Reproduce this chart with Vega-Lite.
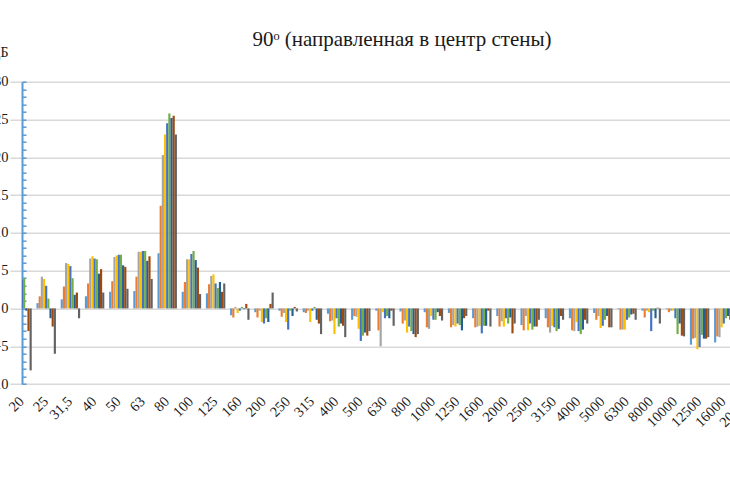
{
  "$schema": "https://vega.github.io/schema/vega-lite/v6.json",
  "title": {
    "text": "90ᵒ (направленная в центр стены)",
    "anchor": "middle",
    "dx": 26,
    "offset": 0,
    "dy": 4,
    "font": "Liberation Serif",
    "fontSize": 21,
    "fontWeight": "normal",
    "color": "#1a1a1a"
  },
  "autosize": {"type": "none"},
  "width": 708,
  "height": 302.3,
  "padding": {"left": 22, "top": 81.7, "right": 0, "bottom": 102},
  "background": "#ffffff",
  "view": {"stroke": null},
  "data": {
    "values": [
      {"band": "20", "series": "s1", "value": 1.0}, {"band": "20", "series": "s2", "value": 2.0}, {"band": "20", "series": "s3", "value": 3.0}, {"band": "20", "series": "s4", "value": 3.5}, {"band": "20", "series": "s5", "value": 3.8}, {"band": "20", "series": "s6", "value": 4.0}, {"band": "20", "series": "s7", "value": -0.3}, {"band": "20", "series": "s8", "value": -3.0}, {"band": "20", "series": "s9", "value": -8.2},
      {"band": "25", "series": "s1", "value": 0.7}, {"band": "25", "series": "s2", "value": 1.6}, {"band": "25", "series": "s3", "value": 4.2}, {"band": "25", "series": "s4", "value": 3.9}, {"band": "25", "series": "s5", "value": 3.0}, {"band": "25", "series": "s6", "value": 1.3}, {"band": "25", "series": "s7", "value": -1.3}, {"band": "25", "series": "s8", "value": -2.4}, {"band": "25", "series": "s9", "value": -6.0},
      {"band": "31,5", "series": "s1", "value": 1.2}, {"band": "31,5", "series": "s2", "value": 2.9}, {"band": "31,5", "series": "s3", "value": 6.0}, {"band": "31,5", "series": "s4", "value": 5.9}, {"band": "31,5", "series": "s5", "value": 5.6}, {"band": "31,5", "series": "s6", "value": 4.0}, {"band": "31,5", "series": "s7", "value": 1.8}, {"band": "31,5", "series": "s8", "value": 2.1}, {"band": "31,5", "series": "s9", "value": -1.3},
      {"band": "40", "series": "s1", "value": 1.6}, {"band": "40", "series": "s2", "value": 3.3}, {"band": "40", "series": "s3", "value": 6.6}, {"band": "40", "series": "s4", "value": 6.9}, {"band": "40", "series": "s5", "value": 6.6}, {"band": "40", "series": "s6", "value": 6.5}, {"band": "40", "series": "s7", "value": 4.6}, {"band": "40", "series": "s8", "value": 5.2}, {"band": "40", "series": "s9", "value": 2.1},
      {"band": "50", "series": "s1", "value": 2.2}, {"band": "50", "series": "s2", "value": 3.6}, {"band": "50", "series": "s3", "value": 6.8}, {"band": "50", "series": "s4", "value": 7.0}, {"band": "50", "series": "s5", "value": 7.1}, {"band": "50", "series": "s6", "value": 7.1}, {"band": "50", "series": "s7", "value": 5.7}, {"band": "50", "series": "s8", "value": 5.5}, {"band": "50", "series": "s9", "value": 2.6},
      {"band": "63", "series": "s1", "value": 2.3}, {"band": "63", "series": "s2", "value": 4.2}, {"band": "63", "series": "s3", "value": 7.5}, {"band": "63", "series": "s4", "value": 7.5}, {"band": "63", "series": "s5", "value": 7.6}, {"band": "63", "series": "s6", "value": 7.6}, {"band": "63", "series": "s7", "value": 6.3}, {"band": "63", "series": "s8", "value": 6.9}, {"band": "63", "series": "s9", "value": 3.9},
      {"band": "80", "series": "s1", "value": 7.3}, {"band": "80", "series": "s2", "value": 13.6}, {"band": "80", "series": "s3", "value": 20.3}, {"band": "80", "series": "s4", "value": 23.0}, {"band": "80", "series": "s5", "value": 24.5}, {"band": "80", "series": "s6", "value": 25.8}, {"band": "80", "series": "s7", "value": 25.2}, {"band": "80", "series": "s8", "value": 25.5}, {"band": "80", "series": "s9", "value": 23.0},
      {"band": "100", "series": "s1", "value": 2.2}, {"band": "100", "series": "s2", "value": 3.5}, {"band": "100", "series": "s3", "value": 6.5}, {"band": "100", "series": "s4", "value": 6.5}, {"band": "100", "series": "s5", "value": 7.2}, {"band": "100", "series": "s6", "value": 7.6}, {"band": "100", "series": "s7", "value": 6.4}, {"band": "100", "series": "s8", "value": 5.4}, {"band": "100", "series": "s9", "value": 1.9},
      {"band": "125", "series": "s1", "value": 2.0}, {"band": "125", "series": "s2", "value": 3.2}, {"band": "125", "series": "s3", "value": 4.3}, {"band": "125", "series": "s4", "value": 4.5}, {"band": "125", "series": "s5", "value": 3.3}, {"band": "125", "series": "s6", "value": 2.7}, {"band": "125", "series": "s7", "value": 3.5}, {"band": "125", "series": "s8", "value": 2.2}, {"band": "125", "series": "s9", "value": 3.3},
      {"band": "160", "series": "s1", "value": -0.9}, {"band": "160", "series": "s2", "value": -1.2}, {"band": "160", "series": "s3", "value": 0.2}, {"band": "160", "series": "s4", "value": -0.6}, {"band": "160", "series": "s5", "value": -0.3}, {"band": "160", "series": "s6", "value": 0.2}, {"band": "160", "series": "s7", "value": -0.1}, {"band": "160", "series": "s8", "value": 0.6}, {"band": "160", "series": "s9", "value": -1.5},
      {"band": "200", "series": "s1", "value": -0.5}, {"band": "200", "series": "s2", "value": -1.2}, {"band": "200", "series": "s3", "value": -0.3}, {"band": "200", "series": "s4", "value": -1.8}, {"band": "200", "series": "s5", "value": -2.0}, {"band": "200", "series": "s6", "value": -1.3}, {"band": "200", "series": "s7", "value": -1.8}, {"band": "200", "series": "s8", "value": 0.6}, {"band": "200", "series": "s9", "value": 2.1},
      {"band": "250", "series": "s1", "value": -0.3}, {"band": "250", "series": "s2", "value": -1.1}, {"band": "250", "series": "s3", "value": -0.6}, {"band": "250", "series": "s4", "value": -1.8}, {"band": "250", "series": "s5", "value": -2.8}, {"band": "250", "series": "s6", "value": -0.3}, {"band": "250", "series": "s7", "value": -1.0}, {"band": "250", "series": "s8", "value": 0.2}, {"band": "250", "series": "s9", "value": -0.4},
      {"band": "315", "series": "s1", "value": -0.5}, {"band": "315", "series": "s2", "value": -0.6}, {"band": "315", "series": "s3", "value": -0.3}, {"band": "315", "series": "s4", "value": -1.8}, {"band": "315", "series": "s5", "value": -0.3}, {"band": "315", "series": "s6", "value": 0.2}, {"band": "315", "series": "s7", "value": -1.5}, {"band": "315", "series": "s8", "value": -2.0}, {"band": "315", "series": "s9", "value": -3.4},
      {"band": "400", "series": "s1", "value": -0.7}, {"band": "400", "series": "s2", "value": -1.7}, {"band": "400", "series": "s3", "value": -1.6}, {"band": "400", "series": "s4", "value": -3.4}, {"band": "400", "series": "s5", "value": -1.3}, {"band": "400", "series": "s6", "value": -2.4}, {"band": "400", "series": "s7", "value": -2.0}, {"band": "400", "series": "s8", "value": -2.3}, {"band": "400", "series": "s9", "value": -3.8},
      {"band": "500", "series": "s1", "value": -1.5}, {"band": "500", "series": "s2", "value": -1.0}, {"band": "500", "series": "s3", "value": -1.1}, {"band": "500", "series": "s4", "value": -2.7}, {"band": "500", "series": "s5", "value": -4.3}, {"band": "500", "series": "s6", "value": -3.6}, {"band": "500", "series": "s7", "value": -3.2}, {"band": "500", "series": "s8", "value": -3.6}, {"band": "500", "series": "s9", "value": -3.0},
      {"band": "630", "series": "s1", "value": -0.3}, {"band": "630", "series": "s2", "value": -2.9}, {"band": "630", "series": "s3", "value": -5.0}, {"band": "630", "series": "s4", "value": -0.5}, {"band": "630", "series": "s5", "value": -1.3}, {"band": "630", "series": "s6", "value": -1.0}, {"band": "630", "series": "s7", "value": -1.3}, {"band": "630", "series": "s8", "value": -0.3}, {"band": "630", "series": "s9", "value": -2.3},
      {"band": "800", "series": "s1", "value": -0.4}, {"band": "800", "series": "s2", "value": -2.0}, {"band": "800", "series": "s3", "value": -1.6}, {"band": "800", "series": "s4", "value": -3.2}, {"band": "800", "series": "s5", "value": -2.4}, {"band": "800", "series": "s6", "value": -3.0}, {"band": "800", "series": "s7", "value": -3.4}, {"band": "800", "series": "s8", "value": -3.8}, {"band": "800", "series": "s9", "value": -3.4},
      {"band": "1000", "series": "s1", "value": -0.5}, {"band": "1000", "series": "s2", "value": -2.5}, {"band": "1000", "series": "s3", "value": -2.7}, {"band": "1000", "series": "s4", "value": -1.0}, {"band": "1000", "series": "s5", "value": -1.5}, {"band": "1000", "series": "s6", "value": -1.5}, {"band": "1000", "series": "s7", "value": -0.5}, {"band": "1000", "series": "s8", "value": -1.0}, {"band": "1000", "series": "s9", "value": -1.6},
      {"band": "1250", "series": "s1", "value": -0.6}, {"band": "1250", "series": "s2", "value": -2.5}, {"band": "1250", "series": "s3", "value": -2.2}, {"band": "1250", "series": "s4", "value": -2.4}, {"band": "1250", "series": "s5", "value": -2.0}, {"band": "1250", "series": "s6", "value": -2.2}, {"band": "1250", "series": "s7", "value": -2.9}, {"band": "1250", "series": "s8", "value": -1.3}, {"band": "1250", "series": "s9", "value": -1.0},
      {"band": "1600", "series": "s1", "value": -1.3}, {"band": "1600", "series": "s2", "value": -2.5}, {"band": "1600", "series": "s3", "value": -2.4}, {"band": "1600", "series": "s4", "value": -2.3}, {"band": "1600", "series": "s5", "value": -3.3}, {"band": "1600", "series": "s6", "value": -2.3}, {"band": "1600", "series": "s7", "value": -2.3}, {"band": "1600", "series": "s8", "value": -0.3}, {"band": "1600", "series": "s9", "value": -2.4},
      {"band": "2000", "series": "s1", "value": -1.0}, {"band": "2000", "series": "s2", "value": -2.4}, {"band": "2000", "series": "s3", "value": -1.7}, {"band": "2000", "series": "s4", "value": -2.4}, {"band": "2000", "series": "s5", "value": -1.3}, {"band": "2000", "series": "s6", "value": -2.0}, {"band": "2000", "series": "s7", "value": -1.2}, {"band": "2000", "series": "s8", "value": -3.3}, {"band": "2000", "series": "s9", "value": -2.0},
      {"band": "2500", "series": "s1", "value": -2.2}, {"band": "2500", "series": "s2", "value": -2.9}, {"band": "2500", "series": "s3", "value": -1.0}, {"band": "2500", "series": "s4", "value": -2.9}, {"band": "2500", "series": "s5", "value": -2.0}, {"band": "2500", "series": "s6", "value": -2.8}, {"band": "2500", "series": "s7", "value": -2.4}, {"band": "2500", "series": "s8", "value": -2.4}, {"band": "2500", "series": "s9", "value": -1.5},
      {"band": "3150", "series": "s1", "value": -1.3}, {"band": "3150", "series": "s2", "value": -2.5}, {"band": "3150", "series": "s3", "value": -3.2}, {"band": "3150", "series": "s4", "value": -2.3}, {"band": "3150", "series": "s5", "value": -2.5}, {"band": "3150", "series": "s6", "value": -3.0}, {"band": "3150", "series": "s7", "value": -2.7}, {"band": "3150", "series": "s8", "value": -1.0}, {"band": "3150", "series": "s9", "value": -1.5},
      {"band": "4000", "series": "s1", "value": -1.3}, {"band": "4000", "series": "s2", "value": -2.9}, {"band": "4000", "series": "s3", "value": -3.0}, {"band": "4000", "series": "s4", "value": -1.8}, {"band": "4000", "series": "s5", "value": -3.0}, {"band": "4000", "series": "s6", "value": -3.4}, {"band": "4000", "series": "s7", "value": -2.8}, {"band": "4000", "series": "s8", "value": -1.5}, {"band": "4000", "series": "s9", "value": -2.0},
      {"band": "5000", "series": "s1", "value": -0.6}, {"band": "5000", "series": "s2", "value": -1.5}, {"band": "5000", "series": "s3", "value": -1.0}, {"band": "5000", "series": "s4", "value": -2.6}, {"band": "5000", "series": "s5", "value": -2.3}, {"band": "5000", "series": "s6", "value": -1.5}, {"band": "5000", "series": "s7", "value": -1.0}, {"band": "5000", "series": "s8", "value": -2.5}, {"band": "5000", "series": "s9", "value": -2.5},
      {"band": "6300", "series": "s1", "value": -0.1}, {"band": "6300", "series": "s2", "value": -2.8}, {"band": "6300", "series": "s3", "value": -2.8}, {"band": "6300", "series": "s4", "value": -2.8}, {"band": "6300", "series": "s5", "value": -1.5}, {"band": "6300", "series": "s6", "value": -1.2}, {"band": "6300", "series": "s7", "value": -0.8}, {"band": "6300", "series": "s8", "value": -0.7}, {"band": "6300", "series": "s9", "value": -1.5},
      {"band": "8000", "series": "s1", "value": -0.3}, {"band": "8000", "series": "s2", "value": -1.2}, {"band": "8000", "series": "s3", "value": -0.3}, {"band": "8000", "series": "s4", "value": -0.5}, {"band": "8000", "series": "s5", "value": -3.0}, {"band": "8000", "series": "s6", "value": -0.3}, {"band": "8000", "series": "s7", "value": -1.3}, {"band": "8000", "series": "s8", "value": 0.1}, {"band": "8000", "series": "s9", "value": -2.0},
      {"band": "10000", "series": "s1", "value": -0.1}, {"band": "10000", "series": "s2", "value": -0.5}, {"band": "10000", "series": "s3", "value": -0.3}, {"band": "10000", "series": "s4", "value": -0.3}, {"band": "10000", "series": "s5", "value": -1.3}, {"band": "10000", "series": "s6", "value": -3.4}, {"band": "10000", "series": "s7", "value": -2.0}, {"band": "10000", "series": "s8", "value": -3.6}, {"band": "10000", "series": "s9", "value": -3.7},
      {"band": "12500", "series": "s1", "value": -4.8}, {"band": "12500", "series": "s2", "value": -4.0}, {"band": "12500", "series": "s3", "value": -3.9}, {"band": "12500", "series": "s4", "value": -5.4}, {"band": "12500", "series": "s5", "value": -5.1}, {"band": "12500", "series": "s6", "value": -3.5}, {"band": "12500", "series": "s7", "value": -4.0}, {"band": "12500", "series": "s8", "value": -4.0}, {"band": "12500", "series": "s9", "value": -3.8},
      {"band": "16000", "series": "s1", "value": -4.5}, {"band": "16000", "series": "s2", "value": -3.7}, {"band": "16000", "series": "s3", "value": -3.8}, {"band": "16000", "series": "s4", "value": -2.5}, {"band": "16000", "series": "s5", "value": -2.0}, {"band": "16000", "series": "s6", "value": -1.3}, {"band": "16000", "series": "s7", "value": -1.0}, {"band": "16000", "series": "s8", "value": -1.5}, {"band": "16000", "series": "s9", "value": -1.0},
      {"band": "20000", "series": "s1", "value": -1.0}, {"band": "20000", "series": "s2", "value": -1.5}, {"band": "20000", "series": "s3", "value": -1.5}, {"band": "20000", "series": "s4", "value": -1.2}, {"band": "20000", "series": "s5", "value": -1.0}, {"band": "20000", "series": "s6", "value": -0.8}, {"band": "20000", "series": "s7", "value": -0.8}, {"band": "20000", "series": "s8", "value": -1.0}, {"band": "20000", "series": "s9", "value": -1.0}
    ]
  },
  "mark": {"type": "bar", "clip": true},
  "encoding": {
    "x": {
      "field": "band",
      "type": "nominal",
      "scale": {
        "domain": ["20", "25", "31,5", "40", "50", "63", "80", "100", "125", "160", "200", "250", "315", "400", "500", "630", "800", "1000", "1250", "1600", "2000", "2500", "3150", "4000", "5000", "6300", "8000", "10000", "12500", "16000", "20000"],
        "range": [-12.1, 738.1],
        "paddingInner": 0.196,
        "paddingOuter": 0.098
      },
      "axis": {
        "title": null,
        "domain": false,
        "ticks": false,
        "grid": false,
        "labelAngle": -45,
        "labelAlign": "right",
        "labelBaseline": "middle",
        "labelPadding": 15,
        "labelFont": "Liberation Serif",
        "labelFontSize": 14.5,
        "labelColor": "#1a1a1a",
        "labelBound": false,
        "labelOverlap": false
      }
    },
    "xOffset": {
      "field": "series",
      "type": "nominal",
      "scale": {"paddingInner": 0, "paddingOuter": 0}
    },
    "y": {
      "field": "value",
      "type": "quantitative",
      "scale": {"domain": [-10, 30], "nice": false, "zero": false},
      "axis": {
        "title": "дБ",
        "titleAngle": 0,
        "titleAlign": "right",
        "titleBaseline": "middle",
        "titleX": -14,
        "titleY": -29,
        "titleFont": "Liberation Serif",
        "titleFontSize": 14,
        "titleFontWeight": "normal",
        "titleColor": "#1a1a1a",
        "values": [-10, -9, -8, -7, -6, -5, -4, -3, -2, -1, 0, 1, 2, 3, 4, 5, 6, 7, 8, 9, 10, 11, 12, 13, 14, 15, 16, 17, 18, 19, 20, 21, 22, 23, 24, 25, 26, 27, 28, 29, 30],
        "labelExpr": "datum.value % 5 === 0 ? datum.label : ''",
        "labelFont": "Liberation Serif",
        "labelFontSize": 14.5,
        "labelColor": "#1a1a1a",
        "labelPadding": 18,
        "domainColor": "#5B9BD5",
        "domainWidth": 2,
        "tickColor": "#5B9BD5",
        "tickWidth": 1.5,
        "tickSize": -4,
        "grid": true,
        "gridColor": "#d9d9d9",
        "gridWidth": 1.5,
        "gridOpacity": {"condition": {"test": "datum.value % 5 === 0", "value": 1}, "value": 0}
      }
    },
    "color": {
      "field": "series",
      "type": "nominal",
      "scale": {
        "domain": ["s1", "s2", "s3", "s4", "s5", "s6", "s7", "s8", "s9"],
        "range": ["#5B9BD5", "#ED7D31", "#A5A5A5", "#FFC000", "#4472C4", "#70AD47", "#255E91", "#9E480E", "#636363"]
      },
      "legend": null
    }
  },
  "config": {}
}
